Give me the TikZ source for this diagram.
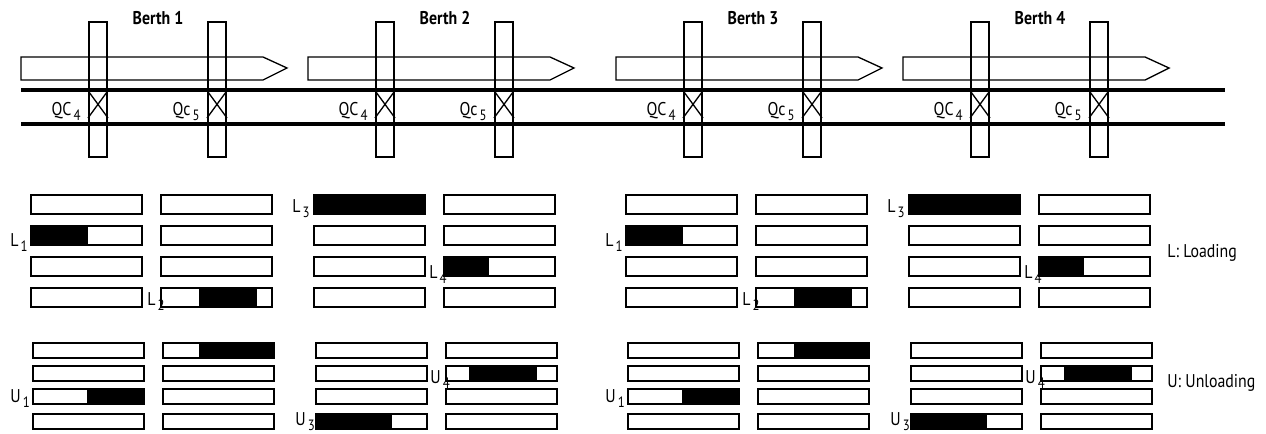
\documentclass[tikz,border=0pt]{standalone}
\usepackage{fontspec}
\setmainfont[FakeStretch=0.86]{PT Sans}
\usetikzlibrary{positioning,calc}
\newcommand{\lowsub}[1]{\kern1.2pt\raisebox{-0.55ex}{\fontsize{8.5}{9}\selectfont#1}}
\tikzset{
  bin/.style={draw=black,line width=1.1pt},
  thin/.style={draw=black,line width=0.75pt},
  lbl/.style={font=\fontsize{10.5}{12}\selectfont,inner sep=0pt},
}

\begin{document}
\begin{tikzpicture}[x=0.02cm,y=-0.02cm]
  \useasboundingbox (0,0) rectangle (1266,433);
  % ships, berth titles and quay cranes
  \foreach \s/\n in {21/1,308/2,616/3,903/4} {
    \draw[thin] (\s,57) -- (\s+242,57) -- (\s+266,68) -- (\s+242,80) -- (\s,80) -- cycle;
    \node[lbl,font=\fontsize{10.5}{12}\selectfont\bfseries] (berth\n) at (\s+137,18) {Berth \n};
    \foreach \c/\q/\t in {68/4/QC,187/5/Qc} {
      \draw[thin] (\s+\c,22) rectangle (\s+\c+18,157);
      \draw[thin] (\s+\c,92) -- (\s+\c+19,118) (\s+\c+18,92) -- (\s+\c-1,118);
      \node[lbl,anchor=base east] (qc\q-\n) at (\s+\c-8,115) {\t\lowsub{\q}};
    }
  }
  % rails
  \draw[line width=2pt] (21,90) -- (1225,90);
  \draw[line width=2pt] (21,124) -- (1225,124);
  % occupied parts of the bins
  \foreach \dx in {0,595} {
    \foreach \x/\y/\w/\h in {31/226/57/19,199/288/58/19,314/195/111/19,445/257/44/19,
                             87/389/57/15,199/343/75/15,317/414/75/15,469/366/68/15}
      \fill[black] (\dx+\x,\y) rectangle +(\w,\h);
  }
  % bin outlines
  \foreach \gx in {31,314,626,909} {
    \foreach \cx in {0,130} {
      \foreach \ry in {195,226,257,288}
        \draw[bin] (\gx+\cx,\ry) rectangle +(111,19);
      \foreach \ry in {343,366,389,414}
        \draw[bin] (\gx+\cx+2,\ry) rectangle +(111,15);
    }
  }
  % task labels
  \foreach \dx/\k in {0/a,595/b} {
    \node[lbl,anchor=base west] (L1\k) at (\dx+10,246) {L\lowsub{1}};
    \node[lbl,anchor=base west] (L2\k) at (\dx+147,305) {L\lowsub{2}};
    \node[lbl,anchor=base west] (L3\k) at (\dx+292,212) {L\lowsub{3}};
    \node[lbl,anchor=base west] (L4\k) at (\dx+429,278) {L\lowsub{4}};
    \node[lbl,anchor=base west] (U1\k) at (\dx+10,402) {U\lowsub{1}};
    \node[lbl,anchor=base west] (U3\k) at (\dx+295,425) {U\lowsub{3}};
    \node[lbl,anchor=base west] (U4\k) at (\dx+430,383) {U\lowsub{4}};
  }
  % legend
  \node[lbl,anchor=west] (loadkey) at (1167,253) {L: Loading};
  \node[lbl,anchor=west] (unloadkey) at (1167,383) {U: Unloading};
\end{tikzpicture}
\end{document}
